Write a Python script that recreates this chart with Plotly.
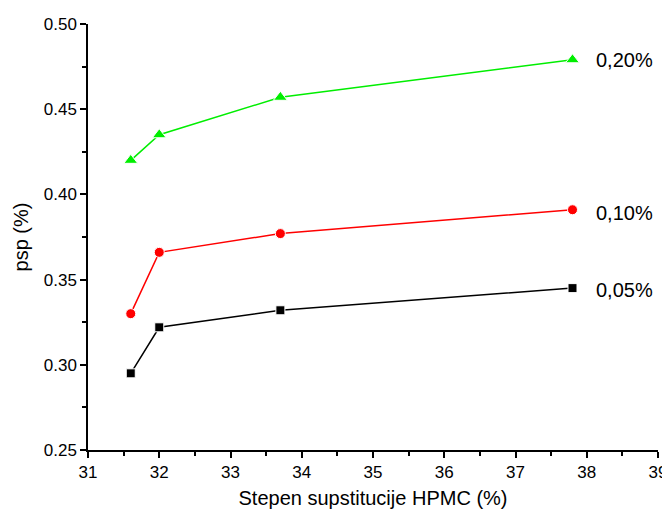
import plotly.graph_objects as go

x_vals = [31.6, 32.0, 33.7, 37.8]
y_005 = [0.295, 0.322, 0.332, 0.345]
y_010 = [0.330, 0.366, 0.377, 0.391]
y_020 = [0.420, 0.435, 0.457, 0.479]
labels = ["0,05%", "0,10%", "0,20%"]

series = [
    (y_005, "black", "square", 9, labels[0], 0.344),
    (y_010, "red", "circle", 10, labels[1], 0.389),
    (y_020, "#00ee00", "triangle-up", 12, labels[2], 0.479),
]

fig = go.Figure()
for ys, col, sym, sz, lab, ly in series:
    fig.add_trace(go.Scatter(
        x=x_vals, y=ys, mode="lines+markers", name=lab,
        line=dict(color=col, width=1.5),
        marker=dict(symbol=sym, size=sz, color=col, line=dict(color="white", width=1)),
    ))
    fig.add_annotation(x=38.1, y=ly, text=lab, showarrow=False, xanchor="left",
                       yanchor="middle", font=dict(size=20, color="black"))

fig.update_layout(
    width=662, height=506,
    margin=dict(l=80, r=12, t=16, b=64, autoexpand=False),
    plot_bgcolor="white", paper_bgcolor="white",
    showlegend=False,
    font=dict(family="Liberation Sans, Arial", color="black"),
)
fig.update_xaxes(
    range=[31, 39], dtick=1, showgrid=False, zeroline=False, automargin=False,
    showline=True, linecolor="black", linewidth=1.5,
    ticks="outside", ticklen=6, tickwidth=1.5, tickcolor="black",
    tickfont=dict(size=17),
    minor=dict(dtick=0.5, ticks="outside", ticklen=4, tickwidth=1.5, tickcolor="black"),
    title=dict(text="Stepen supstitucije HPMC (%)", font=dict(size=20), standoff=10),
)
fig.update_yaxes(
    range=[0.25, 0.50], dtick=0.05, tickformat=".2f", showgrid=False, zeroline=False, automargin=False,
    showline=True, linecolor="black", linewidth=1.5,
    ticks="outside", ticklen=6, tickwidth=1.5, tickcolor="black",
    tickfont=dict(size=17),
    minor=dict(dtick=0.025, ticks="outside", ticklen=4, tickwidth=1.5, tickcolor="black"),
    title=dict(text="psp (%)", font=dict(size=20), standoff=10),
)
fig.write_html("out.html")
